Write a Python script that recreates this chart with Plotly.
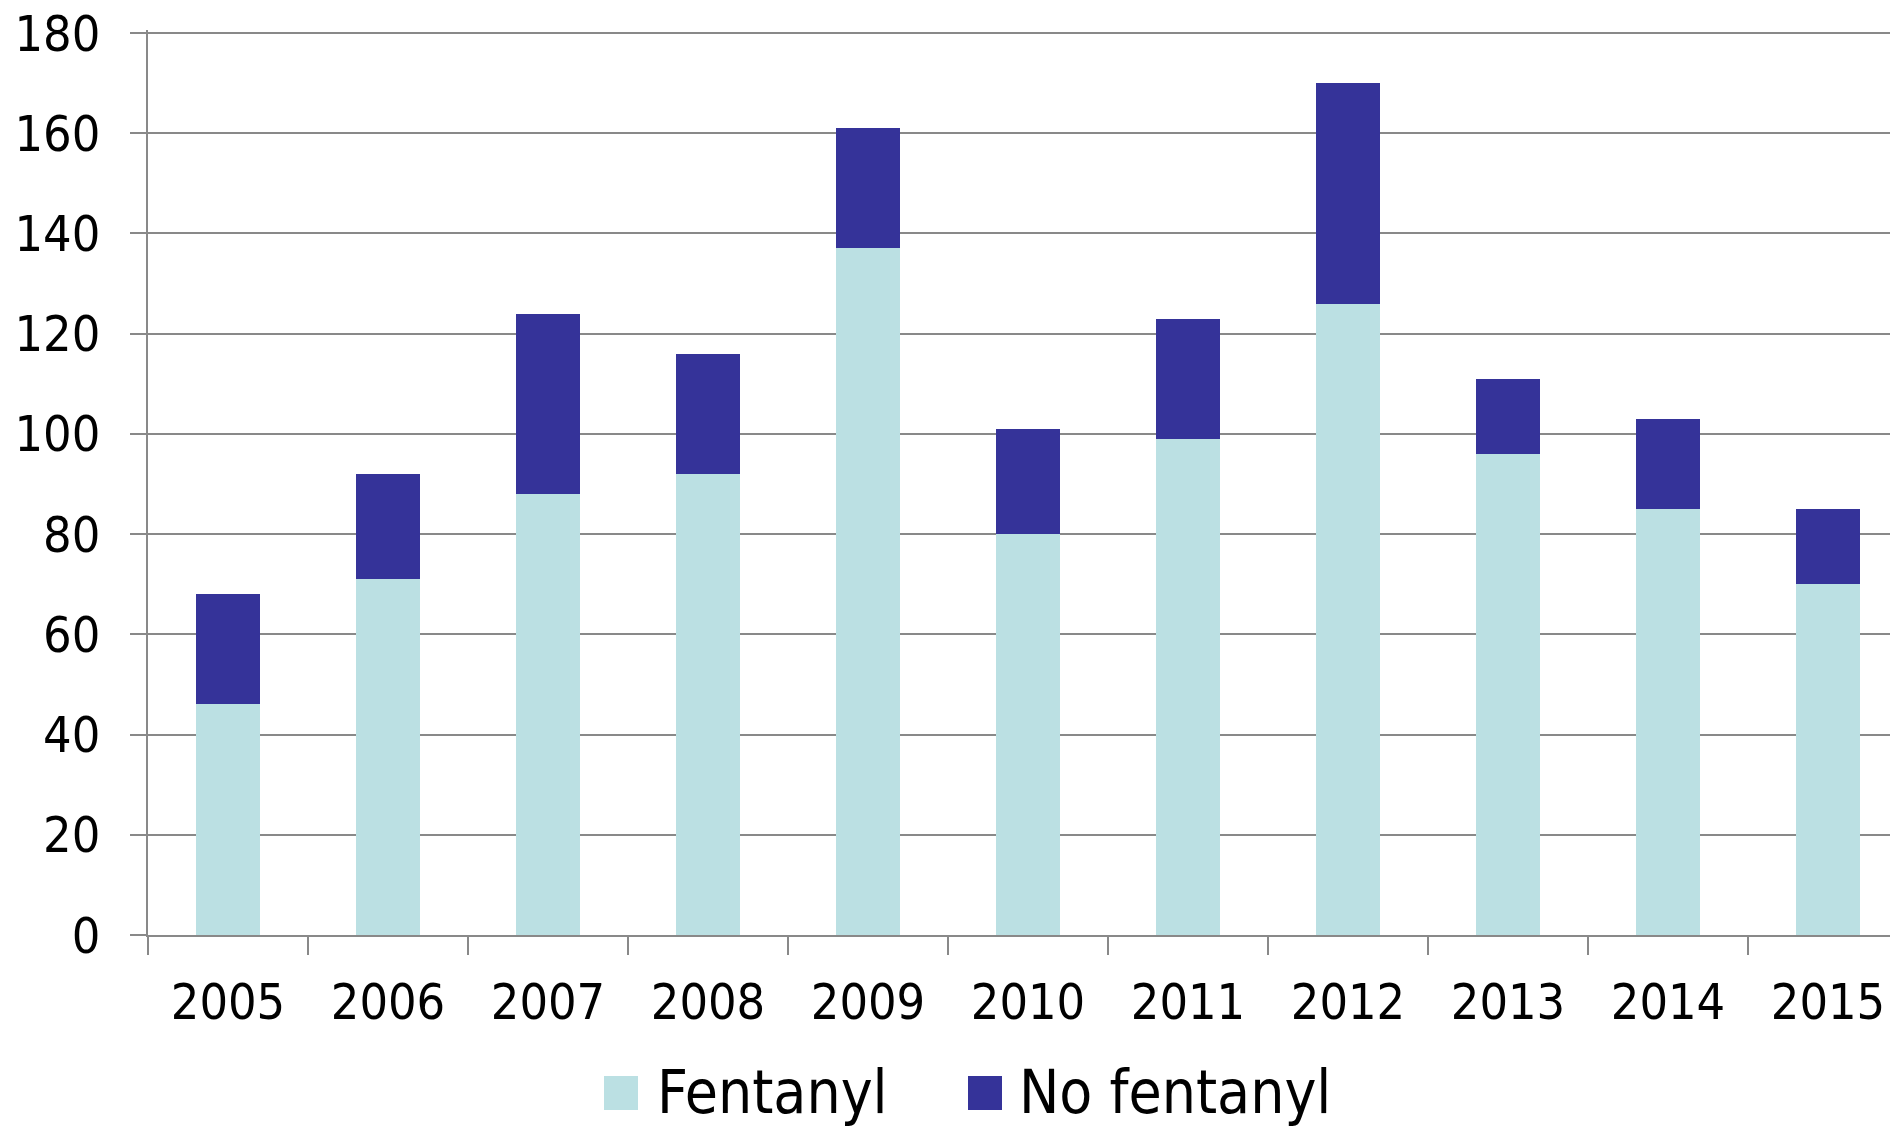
import plotly.graph_objects as go

years = ["2005", "2006", "2007", "2008", "2009", "2010", "2011", "2012", "2013", "2014", "2015"]
fentanyl = [46, 71, 88, 92, 137, 80, 99, 126, 96, 85, 70]
no_fentanyl = [22, 21, 36, 24, 24, 21, 24, 44, 15, 18, 15]
y_ticks = [0, 20, 40, 60, 80, 100, 120, 140, 160, 180]

C_FEN = "#BBE0E3"
C_NOF = "#353399"
GRID = "#898989"
FONT = "DejaVu Sans Condensed, Liberation Sans Narrow, DejaVu Sans, sans-serif"

OFF = 8  # page body margin
W, H = 1898 - OFF, 1127 - OFF
YMAX = 180.6
ML, MT = 148 - OFF, 30 - OFF
MB = H - (935 - OFF)
MR = 0
PW = W - ML - MR
PH = H - MT - MB
cat_px = 160.0

fig = go.Figure()
fig.add_trace(go.Bar(x=years, y=fentanyl, name="Fentanyl", marker=dict(color=C_FEN, line=dict(width=0)), width=0.4))
fig.add_trace(go.Bar(x=years, y=no_fentanyl, name="No fentanyl", marker=dict(color=C_NOF, line=dict(width=0)), width=0.4))

fig.update_layout(
    barmode="stack",
    width=W, height=H,
    margin=dict(l=ML, r=MR, t=MT, b=MB, autoexpand=False),
    plot_bgcolor="white", paper_bgcolor="white",
    showlegend=False,
    font=dict(family=FONT, color="black"),
)
fig.update_xaxes(
    type="category",
    range=[-0.5, -0.5 + PW / cat_px],
    tickson="boundaries",
    ticks="outside", ticklen=18, tickwidth=1.5, tickcolor=GRID,
    showline=True, linecolor=GRID, linewidth=1.5,
    showgrid=False,
    tickfont=dict(size=50, color="black"),
    ticklabelstandoff=22,
    ticklabeloverflow="allow",
)
fig.update_yaxes(
    range=[0, YMAX],
    tickvals=y_ticks,
    ticks="outside", ticklen=16, tickwidth=1.5, tickcolor=GRID,
    showline=True, linecolor=GRID, linewidth=1.5,
    showgrid=True, gridcolor=GRID, gridwidth=1.5,
    zeroline=False,
    tickfont=dict(size=50, color="black"),
    ticklabelstandoff=20,
    ticklabeloverflow="allow",
)

def px_x(px):
    return (px - OFF - ML) / PW

def px_y(py):
    return (H - MB - (py - OFF)) / PH

legend_items = [("Fentanyl", C_FEN, 604, 655), ("No fentanyl", C_NOF, 968, 1017)]
for label, col, sx, tx in legend_items:
    fig.add_shape(type="rect", xref="paper", yref="paper",
                  x0=px_x(sx), x1=px_x(sx + 34), y0=px_y(1110), y1=px_y(1076),
                  fillcolor=col, line=dict(width=0))
    fig.add_annotation(text=label, xref="paper", yref="paper", x=px_x(tx), y=px_y(1092),
                       xanchor="left", yanchor="middle", showarrow=False,
                       font=dict(size=60, color="black", family=FONT))

fig.write_html("out.html")
